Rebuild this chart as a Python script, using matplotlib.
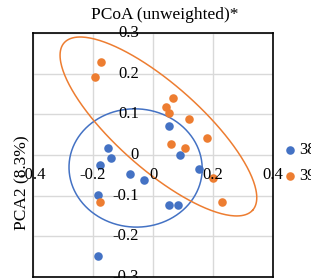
import numpy as np
import matplotlib
matplotlib.use("Agg")
import matplotlib.pyplot as plt
from matplotlib import transforms

plt.rcParams['font.family'] = ['Liberation Serif', 'DejaVu Serif']

# 데이터
labels = ['38', '39']
x38 = [0.054, -0.151, -0.139, -0.177, 0.091, -0.077, -0.029, 0.152, -0.182, 0.052, 0.082, -0.182]
y38 = [0.070, 0.017, -0.007, -0.024, 0.001, -0.048, -0.061, -0.034, -0.099, -0.124, -0.122, -0.248]
x39 = [-0.173, -0.193, 0.066, 0.042, 0.053, 0.120, 0.181, 0.061, 0.108, 0.201, 0.229, -0.176]
y39 = [0.228, 0.192, 0.139, 0.117, 0.104, 0.089, 0.041, 0.026, 0.018, -0.057, -0.116, -0.116]

# 타원: 중심(데이터), 반축(x축 단위), 각도(도)
ell38 = dict(cx=-0.058, cy=-0.032, a=0.222, b=0.197, ang=-3)
ell39 = dict(cx=0.018, cy=0.070, a=0.42, b=0.141, ang=-41.6)

xticks = [-0.4, -0.2, 0, 0.2, 0.4]
yticks = [-0.3, -0.2, -0.1, 0, 0.1, 0.2, 0.3]

blue = '#4472C4'
orange = '#ED7D31'

fig = plt.figure(figsize=(3.11, 2.78), dpi=100)
ax = fig.add_axes([0.106, 0.0036, 0.772, 0.878])
ax.set_xlim(-0.4, 0.4)
ax.set_ylim(-0.3, 0.3)
ax.set_xticks(xticks)
ax.set_yticks(yticks)
ax.tick_params(length=0, labelbottom=False, labelleft=False)
ax.grid(True, color='#d9d9d9', lw=1)
ax.set_axisbelow(True)
for s in ax.spines.values():
    s.set_color('black')
    s.set_linewidth(1.2)

ax.scatter(x38, y38, s=38, color=blue, zorder=3, label=labels[0], linewidths=0)
ax.scatter(x39, y39, s=38, color=orange, zorder=3, label=labels[1], linewidths=0)

# 화면 비율을 고려해서 타원 그리기
bb = ax.get_position()
W, H = fig.get_size_inches()
sx = bb.width * W / 0.8
sy = bb.height * H / 0.6
t = np.linspace(0, 2 * np.pi, 300)
for e, c in [(ell38, blue), (ell39, orange)]:
    phi = np.deg2rad(e['ang'])
    dx = e['a'] * np.cos(t) * np.cos(phi) - e['b'] * np.sin(t) * np.sin(phi)
    dy = e['a'] * np.cos(t) * np.sin(phi) + e['b'] * np.sin(t) * np.cos(phi)
    ax.plot(e['cx'] + dx, e['cy'] + dy * sx / sy, color=c, lw=1.1, zorder=2)

# 축 라벨 (0에서 교차)
off_y = transforms.offset_copy(ax.transData, fig=fig, x=-14, y=0, units='dots')
for v in yticks:
    lab = '0' if v == 0 else f'{v:.1f}'
    ax.text(0, v, lab, transform=off_y, ha='right', va='center', fontsize=12, clip_on=False)
off_x = transforms.offset_copy(ax.transData, fig=fig, x=0, y=-20, units='dots')
for v in xticks:
    lab = '0' if v == 0 else f'{v:.1f}'
    ax.text(v, 0, lab, transform=off_x, ha='center', va='center', fontsize=12, clip_on=False)

fig.text(165 / 311, 1 - 15 / 278, 'PCoA (unweighted)*', ha='center', va='center', fontsize=12.5)
fig.text(22 / 311, 1 - 183 / 278, 'PCA2 (8.3%)', rotation=90, ha='center', va='center', fontsize=12.5)

ax.legend(loc='center left', bbox_to_anchor=(285 / 311, 1 - 163 / 278), bbox_transform=fig.transFigure,
          frameon=False, fontsize=12, handletextpad=0.25, labelspacing=0.6, borderpad=0,
          borderaxespad=0, handlelength=0.6, markerscale=1.0)

fig.savefig('out.png', dpi=100)
